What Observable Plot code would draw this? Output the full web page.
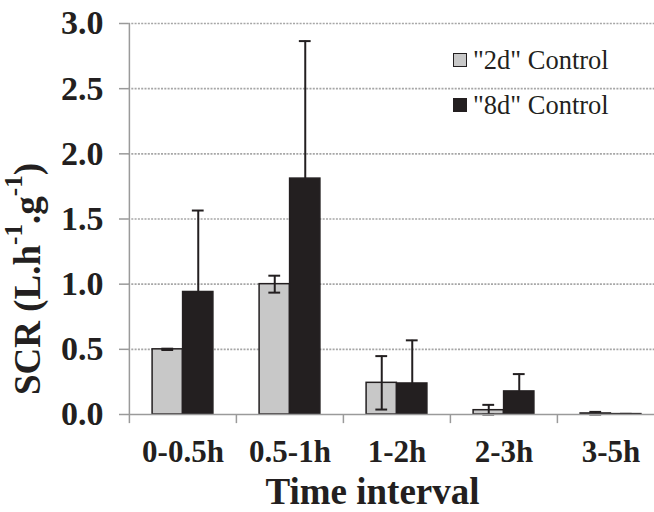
<!DOCTYPE html>
<html><head><meta charset="utf-8">
<script src="https://cdn.jsdelivr.net/npm/d3@7"></script>
<script src="https://cdn.jsdelivr.net/npm/@observablehq/plot@0.6"></script>
<style>
html,body{margin:0;padding:0;background:#fff;overflow:hidden;}
#wrap{position:relative;width:654px;height:512px;overflow:hidden;}
.legend{position:absolute;left:0;top:0;font-family:"Liberation Serif","Times New Roman",serif;font-size:26.5px;color:#231f20;}
.item{position:absolute;white-space:nowrap;display:flex;align-items:center;line-height:1;}
.sw{width:14px;height:14px;box-sizing:border-box;border:1.5px solid #231f20;margin-right:6px;}
</style></head><body><div id="wrap"></div>
<script>
const categories = ["0-0.5h", "0.5-1h", "1-2h", "2-3h", "3-5h"];
const series = ['"2d" Control', '"8d" Control'];
const mean2d = [0.50, 1.00, 0.243, 0.033, 0.008];
const sd2d   = [0.005, 0.065, 0.205, 0.041, 0.012];
const mean8d = [0.94, 1.81, 0.238, 0.177, 0.003];
const sd8d   = [0.625, 1.055, 0.331, 0.133, 0.002];
const yTicks = [0, 0.5, 1.0, 1.5, 2.0, 2.5, 3.0];
const colors = ["#c8c8c8", "#231f20"];

const W = 654, H = 512, ML = 128, MR = -10, MT = 23, MB = 98;
const step = (W - ML - MR) / categories.length;
const barW = 30.5, capW = 12;

const rows = categories.flatMap((c, i) => [
  {cat: c, series: series[0], mean: mean2d[i], sd: sd2d[i]},
  {cat: c, series: series[1], mean: mean8d[i], sd: sd8d[i]}
]);
const g = rows.filter(d => d.series === series[0]);
const b = rows.filter(d => d.series === series[1]);
const dark = "#231f20", axisC = "#9a9a9a";

const plot = Plot.plot({
  width: W, height: H,
  marginLeft: ML, marginRight: MR, marginTop: MT, marginBottom: MB,
  style: {fontFamily: '"Liberation Serif","Times New Roman",serif', color: dark, background: "white", overflow: "visible"},
  x: {type: "band", domain: categories, padding: 0, label: null},
  y: {domain: [0, 3], label: null},
  marks: [
    Plot.ruleY(yTicks.slice(1), {stroke: "#a6a6a6", strokeWidth: 1.6, strokeDasharray: "2,1.3"}),
    Plot.barY(g, {x: "cat", y: "mean", fill: colors[0], stroke: dark, strokeWidth: 1.5,
      insetLeft: step / 2 - barW, insetRight: step / 2}),
    Plot.barY(b, {x: "cat", y: "mean", fill: colors[1], stroke: dark, strokeWidth: 1.5,
      insetLeft: step / 2, insetRight: step / 2 - barW}),
    Plot.ruleX(g, {x: "cat", y1: d => Math.max(0, d.mean - d.sd), y2: d => d.mean + d.sd, dx: -barW / 2, stroke: dark, strokeWidth: 2}),
    Plot.tickY(g, {x: "cat", y: d => d.mean + d.sd, dx: -barW / 2, inset: (step - capW) / 2, stroke: dark, strokeWidth: 2}),
    Plot.tickY(g, {x: "cat", y: d => Math.max(0, d.mean - d.sd), dx: -barW / 2, inset: (step - capW) / 2, stroke: dark, strokeWidth: 2}),
    Plot.ruleX(b, {x: "cat", y1: "mean", y2: d => d.mean + d.sd, dx: barW / 2, stroke: dark, strokeWidth: 2}),
    Plot.tickY(b, {x: "cat", y: d => d.mean + d.sd, dx: barW / 2, inset: (step - capW) / 2, stroke: dark, strokeWidth: 2}),
    Plot.ruleY([0], {stroke: axisC, strokeWidth: 1.5}),
    Plot.ruleX([categories[0]], {x: d => d, dx: -step / 2, stroke: axisC, strokeWidth: 1.5}),
    Plot.ruleX(categories, {x: d => d, y1: 0, y2: -0.07, dx: -step / 2, stroke: axisC, strokeWidth: 1.5, clip: false}),
    Plot.axisY({ticks: yTicks, tickFormat: d => d.toFixed(1), tickSize: 9, tickPadding: 16,
      stroke: axisC, strokeWidth: 1.5, fontSize: 34, fontWeight: "bold", fill: dark, label: null}),
    Plot.axisX({tickSize: 0, tickPadding: 25, fontSize: 31, fontWeight: "bold", fill: dark, label: null}),
    Plot.text(["Time interval"], {frameAnchor: "bottom", dx: -24, dy: 78, fontSize: 37, fontWeight: "bold", fill: dark, lineAnchor: "middle"}),
    Plot.text(["SCR (L.h-1.g-1)"], {frameAnchor: "left", rotate: -90, dx: -100, dy: 176, fontSize: 37, fontWeight: "bold", fill: dark, lineAnchor: "middle", textAnchor: "start", className: "ytitle"})
  ]
});

const wrap = document.getElementById("wrap");
wrap.appendChild(plot);

// superscripts in y title
d3.select(plot).selectAll("g.ytitle text").each(function() {
  const t = d3.select(this);
  t.text(null);
  const parts = [["SCR (L.h", 0], ["-1", 1], [".g", 0], ["-1", 1], [")", 0]];
  let up = false;
  for (const [s, sup] of parts) {
    const ts = t.append("tspan").text(s);
    if (sup) { ts.attr("font-size", "0.68em").attr("dy", "-0.72em"); up = true; }
    else if (up) { ts.attr("dy", "0.49em"); up = false; }
  }
});

const leg = document.createElement("div");
leg.className = "legend";
const pos = [60, 105];
series.forEach((s, i) => {
  const it = document.createElement("div");
  it.className = "item";
  it.style.left = "453px";
  it.style.top = (pos[i] - 13) + "px";
  const sw = document.createElement("span");
  sw.className = "sw";
  sw.style.background = colors[i];
  const tx = document.createElement("span");
  tx.textContent = s;
  it.appendChild(sw); it.appendChild(tx);
  leg.appendChild(it);
});
wrap.appendChild(leg);
</script></body></html>
